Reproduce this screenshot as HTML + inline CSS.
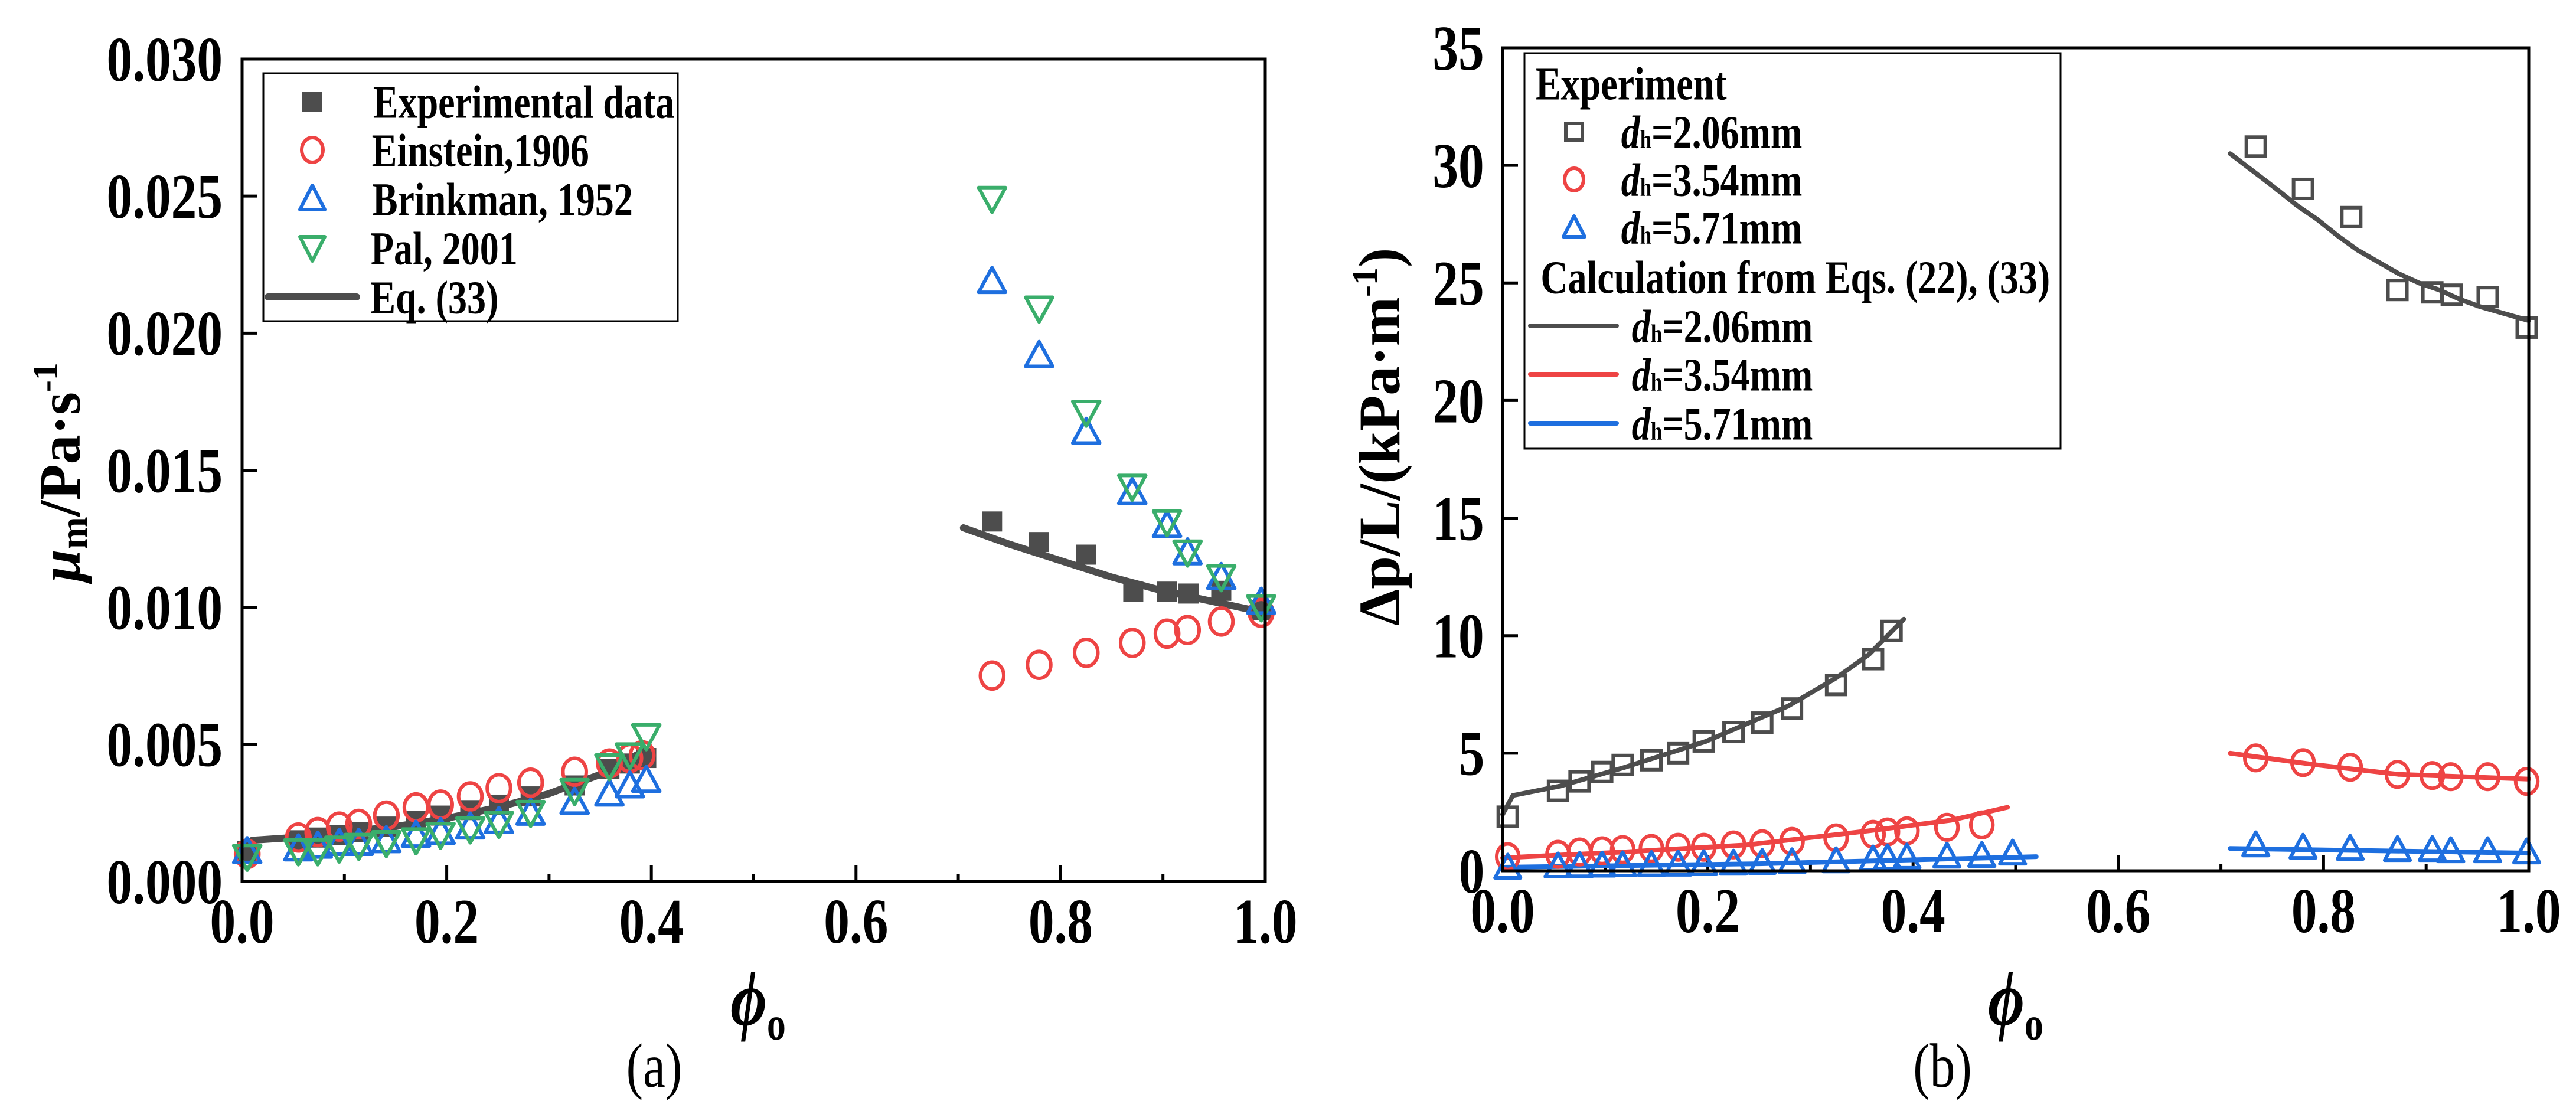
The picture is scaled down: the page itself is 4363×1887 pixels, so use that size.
<!DOCTYPE html>
<html><head><meta charset="utf-8"><style>
html,body{margin:0;padding:0;background:#fff;}
svg{display:block;}
text{font-family:"Liberation Serif",serif;font-weight:bold;fill:#000;}
.st{transform-box:fill-box;transform-origin:center;transform:scale(0.97,1.2);}
</style></head><body>
<svg id="fig" width="4363" height="1887" viewBox="0 0 4363 1887" xmlns="http://www.w3.org/2000/svg"></svg>
<script>
// ---------- Panel (a) data ----------
const aExpX = [0.005,0.055,0.074,0.095,0.114,0.141,0.170,0.194,0.223,0.251,0.282,0.325,0.359,0.379,0.395,0.733,0.779,0.825,0.871,0.904,0.925,0.957,0.996];
const aExpY = [0.0011,0.0015,0.0016,0.0017,0.0018,0.0020,0.0022,0.0024,0.0026,0.0028,0.0031,0.0035,0.0041,0.0043,0.0045,0.01313,0.01238,0.01192,0.01057,0.01057,0.0105,0.0106,0.0099];
const aEinX = [0.005,0.055,0.074,0.095,0.114,0.141,0.170,0.194,0.223,0.251,0.282,0.325,0.359,0.379,0.391,0.733,0.779,0.825,0.870,0.904,0.924,0.957,0.996];
const aEinY = [0.0010,0.0016,0.0018,0.0020,0.0021,0.0024,0.0027,0.0028,0.0031,0.0034,0.0036,0.0040,0.0043,0.0045,0.0046,0.00751,0.0079,0.00834,0.0087,0.00904,0.00917,0.00948,0.0098];
const aBriX = [0.005,0.055,0.074,0.095,0.114,0.141,0.170,0.194,0.223,0.251,0.282,0.325,0.359,0.379,0.395,0.733,0.779,0.825,0.870,0.904,0.924,0.957,0.996];
const aBriY = [0.0011,0.0012,0.0013,0.0014,0.0014,0.0015,0.0017,0.0018,0.0020,0.0022,0.0025,0.0029,0.0032,0.0035,0.0037,0.0219,0.0192,0.0164,0.0142,0.0130,0.0120,0.0111,0.0102];
const aPalX = [0.005,0.055,0.074,0.095,0.114,0.141,0.170,0.194,0.223,0.251,0.282,0.325,0.359,0.379,0.395,0.733,0.779,0.825,0.870,0.904,0.924,0.957,0.996];
const aPalY = [0.0009,0.0011,0.0011,0.0012,0.0013,0.0014,0.0015,0.0017,0.0019,0.0021,0.0025,0.0033,0.0042,0.0046,0.0053,0.0249,0.0209,0.0171,0.0144,0.0131,0.0120,0.0111,0.0100];
const aEqLowX = [0.0,0.01,0.05,0.1,0.15,0.2,0.25,0.3,0.35,0.395];
const aEqLowY = [0.00115,0.0015,0.0016,0.0018,0.0020,0.0023,0.0027,0.0032,0.0039,0.0048];
const aEqHighX = [0.705,0.75,0.8,0.85,0.9,0.95,1.0];
const aEqHighY = [0.0129,0.0123,0.0117,0.0111,0.0106,0.0102,0.0098];
const aYTicks = ["0.000","0.005","0.010","0.015","0.020","0.025","0.030"];
const xTicks = ["0.0","0.2","0.4","0.6","0.8","1.0"];
// ---------- Panel (b) data ----------
const bX1 = [0.005,0.054,0.075,0.097,0.117,0.145,0.171,0.196,0.225,0.253,0.282,0.325,0.361,0.379,0.734,0.780,0.827,0.872,0.906,0.925,0.960,0.998];
const bY1 = [2.3,3.4,3.8,4.2,4.5,4.7,5.0,5.5,5.9,6.3,6.9,7.9,9.0,10.2,30.8,29.0,27.8,24.7,24.6,24.5,24.4,23.1];
const bX2 = [0.005,0.054,0.075,0.097,0.117,0.145,0.171,0.196,0.225,0.253,0.282,0.325,0.361,0.375,0.394,0.433,0.467,0.734,0.780,0.826,0.872,0.906,0.924,0.960,0.998];
const bY2 = [0.6,0.7,0.8,0.85,0.9,0.95,1.0,1.0,1.1,1.15,1.25,1.4,1.55,1.65,1.7,1.85,1.95,4.8,4.6,4.4,4.1,4.05,4.0,4.0,3.8];
const bX3 = [0.005,0.054,0.075,0.097,0.117,0.145,0.171,0.196,0.225,0.253,0.282,0.325,0.361,0.375,0.394,0.433,0.467,0.497,0.734,0.780,0.826,0.872,0.906,0.924,0.960,0.998];
const bY3 = [0.15,0.2,0.22,0.24,0.25,0.26,0.28,0.3,0.32,0.35,0.38,0.42,0.5,0.55,0.58,0.62,0.65,0.75,1.1,1.0,0.95,0.9,0.9,0.85,0.85,0.8];
const bC1LowX = [0,0.01,0.056,0.119,0.198,0.278,0.325,0.357,0.391];
const bC1LowY = [2.4,3.2,3.6,4.4,5.5,7.0,8.2,9.2,10.7];
const bC1HighX = [0.709,0.73,0.754,0.774,0.794,0.814,0.833,0.853,0.873,0.893,0.913,0.933,0.952,0.976,1.0];
const bC1HighY = [30.5,29.8,29.0,28.3,27.7,27.0,26.4,25.9,25.4,25.0,24.7,24.3,24.0,23.7,23.4];
const bC2LowX = [0,0.119,0.238,0.357,0.437,0.492];
const bC2LowY = [0.55,0.8,1.1,1.7,2.15,2.7];
const bC2HighX = [0.709,0.794,0.873,1.0];
const bC2HighY = [5.0,4.5,4.1,3.9];
const bC3LowX = [0,0.25,0.52];
const bC3LowY = [0.15,0.3,0.6];
const bC3HighX = [0.709,1.0];
const bC3HighY = [0.95,0.75];
const bYTicks = ["0","5","10","15","20","25","30","35"];

const NS="http://www.w3.org/2000/svg";
const svg=document.getElementById('fig');
function mk(tag,attrs,parent){const e=document.createElementNS(NS,tag);for(const k in attrs)e.setAttribute(k,attrs[k]);(parent||svg).appendChild(e);return e;}
const GRAY="#4d4d4d",RED="#ee4444",BLUE="#1e6fdf",GREEN="#3aae6b";

function marker(g,type,cx,cy,color,s){
  let e;
  if(type==='fsq'){e=mk('rect',{x:cx-s/2,y:cy-s/2,width:s,height:s,fill:color},g);}
  else if(type==='sq'){e=mk('rect',{x:cx-s/2,y:cy-s/2,width:s,height:s,fill:'none',stroke:color,'stroke-width':6},g);}
  else if(type==='ci'){e=mk('ellipse',{cx:cx,cy:cy,rx:s*0.52,ry:s*0.6,fill:'none',stroke:color,'stroke-width':6},g);}
  else if(type==='tu'){e=mk('polygon',{points:`${cx},${cy-s*0.6} ${cx-s*0.6},${cy+s*0.5} ${cx+s*0.6},${cy+s*0.5}`,fill:'none',stroke:color,'stroke-width':6,'stroke-linejoin':'round'},g);}
  else {e=mk('polygon',{points:`${cx},${cy+s*0.6} ${cx-s*0.6},${cy-s*0.5} ${cx+s*0.6},${cy-s*0.5}`,fill:'none',stroke:color,'stroke-width':6,'stroke-linejoin':'round'},g);}
  return e;
}

function panel(o){
  const sx=v=>o.x0+(v-o.xmin)/(o.xmax-o.xmin)*(o.x1-o.x0);
  const sy=v=>o.y0-(v-o.ymin)/(o.ymax-o.ymin)*(o.y0-o.y1);
  const g=mk('g',{});
  
  
  for(let i=0;i<=10;i++){const v=i/10;const X=sx(v);const len=(i%2==0)?27:12;
    const t=mk('line',{x1:X,y1:o.y0,x2:X,y2:o.y0-len,stroke:'#000','stroke-width':5},g);
    }
  xTicks.forEach((lab,i)=>{const t=mk('text',{x:sx(i*0.2),y:o.y0+98,'text-anchor':'middle','font-size':90,'class':'st'},g);t.textContent=lab;
    });
  o.yticks.forEach((lab,i)=>{const v=o.ymin+i*o.ystep;const Y=sy(v);
    const l=mk('line',{x1:o.x0,y1:Y,x2:o.x0+26,y2:Y,stroke:'#000','stroke-width':5},g);
    
    const t=mk('text',{x:o.x0-30,y:Y+31,'text-anchor':'end','font-size':90,'class':'st'},g);t.textContent=lab;
    });
  o.lines.forEach(L=>{let d='';L.x.forEach((v,i)=>{d+=(i?'L':'M')+sx(v).toFixed(1)+','+sy(L.y[i]).toFixed(1);});
    const p=mk('path',{d:d,fill:'none',stroke:L.c,'stroke-width':L.w,'stroke-linecap':'round','stroke-linejoin':'round'},g);
    });
  o.pts.forEach(P=>{const sg=mk('g',{},g);
    P.x.forEach((v,i)=>{const m=marker(sg,P.t,sx(v),sy(P.y[i]),P.c,P.s);
      });});
  const f=mk('rect',{x:o.x0,y:o.y1,width:o.x1-o.x0,height:o.y0-o.y1,fill:'none',stroke:'#000','stroke-width':5},g);
  
  return g;
}

panel({name:'panel-a',x0:410,x1:2143,y0:1493,y1:100,xmin:0,xmax:1,ymin:0,ymax:0.03,ystep:0.005,yticks:aYTicks,
  lines:[{n:'eq33-line-low',x:aEqLowX,y:aEqLowY,c:GRAY,w:12},{n:'eq33-line-high',x:aEqHighX,y:aEqHighY,c:GRAY,w:12}],
  pts:[{n:'experimental-series',t:'fsq',x:aExpX,y:aExpY,c:GRAY,s:34},
       {n:'einstein-series',t:'ci',x:aEinX,y:aEinY,c:RED,s:38},
       {n:'brinkman-series',t:'tu',x:aBriX,y:aBriY,c:BLUE,s:38},
       {n:'pal-series',t:'td',x:aPalX,y:aPalY,c:GREEN,s:38}]});
panel({name:'panel-b',x0:2545,x1:4283,y0:1475,y1:81,xmin:0,xmax:1,ymin:0,ymax:35,ystep:5,yticks:bYTicks,
  lines:[{n:'calc-206-low',x:bC1LowX,y:bC1LowY,c:GRAY,w:8},{n:'calc-206-high',x:bC1HighX,y:bC1HighY,c:GRAY,w:8},
         {n:'calc-354-low',x:bC2LowX,y:bC2LowY,c:RED,w:8},{n:'calc-354-high',x:bC2HighX,y:bC2HighY,c:RED,w:8},
         {n:'calc-571-low',x:bC3LowX,y:bC3LowY,c:BLUE,w:8},{n:'calc-571-high',x:bC3HighX,y:bC3HighY,c:BLUE,w:8}],
  pts:[{n:'exp-206-series',t:'sq',x:bX1,y:bY1,c:GRAY,s:32},
       {n:'exp-354-series',t:'ci',x:bX2,y:bY2,c:RED,s:36},
       {n:'exp-571-series',t:'tu',x:bX3,y:bY3,c:BLUE,s:36}]});
</script>
<svg style="position:absolute;left:0;top:0" width="4363" height="1887" xmlns="http://www.w3.org/2000/svg">
<g>
 <rect x="446" y="124" width="702" height="420" fill="#fff" stroke="#000" stroke-width="3"/>
 <rect x="512" y="155" width="34" height="34" fill="#4d4d4d"/>
 <text class="st" x="624" y="195" font-size="66">Experimental data</text>
 <ellipse cx="529" cy="254" rx="18" ry="21" fill="none" stroke="#ee4444" stroke-width="6"/>
 <text class="st" x="624" y="277" font-size="66">Einstein,1906</text>
 <polygon points="529,314 508,355 550,355" fill="none" stroke="#1e6fdf" stroke-width="6" stroke-linejoin="round"/>
 <text class="st" x="624" y="360" font-size="66">Brinkman, 1952</text>
 <polygon points="529,442 508,401 550,401" fill="none" stroke="#3aae6b" stroke-width="6" stroke-linejoin="round"/>
 <text class="st" x="624" y="443" font-size="66">Pal, 2001</text>
 <line x1="454" y1="503" x2="604" y2="503" stroke="#4d4d4d" stroke-width="12" stroke-linecap="round"/>
 <text class="st" x="624" y="526" font-size="66">Eq.  (33)</text>
</g>
<g>
 <rect x="2582" y="90" width="908" height="670" fill="#fff" stroke="#000" stroke-width="3"/>
 <text class="st" x="2596" y="164" font-size="66">Experiment</text>
 <rect x="2652" y="209" width="28" height="28" fill="none" stroke="#4d4d4d" stroke-width="6"/>
 <text class="st" x="2741" y="246" font-size="66"><tspan font-style="italic">d</tspan><tspan font-size="36">h</tspan>=2.06mm</text>
 <ellipse cx="2666" cy="304" rx="16" ry="19" fill="none" stroke="#ee4444" stroke-width="6"/>
 <text class="st" x="2741" y="327" font-size="66"><tspan font-style="italic">d</tspan><tspan font-size="36">h</tspan>=3.54mm</text>
 <polygon points="2666,366 2648,401 2684,401" fill="none" stroke="#1e6fdf" stroke-width="6" stroke-linejoin="round"/>
 <text class="st" x="2741" y="408" font-size="66"><tspan font-style="italic">d</tspan><tspan font-size="36">h</tspan>=5.71mm</text>
 <text class="st" x="2596" y="492" font-size="66">Calculation from Eqs. (22), (33)</text>
 <line x1="2592" y1="552" x2="2738" y2="552" stroke="#4d4d4d" stroke-width="8" stroke-linecap="round"/>
 <text class="st" x="2759" y="575" font-size="66"><tspan font-style="italic">d</tspan><tspan font-size="36">h</tspan>=2.06mm</text>
 <line x1="2592" y1="634" x2="2738" y2="634" stroke="#ee4444" stroke-width="8" stroke-linecap="round"/>
 <text class="st" x="2759" y="657" font-size="66"><tspan font-style="italic">d</tspan><tspan font-size="36">h</tspan>=3.54mm</text>
 <line x1="2592" y1="717" x2="2738" y2="717" stroke="#1e6fdf" stroke-width="8" stroke-linecap="round"/>
 <text class="st" x="2759" y="740" font-size="66"><tspan font-style="italic">d</tspan><tspan font-size="36">h</tspan>=5.71mm</text>
</g>
<text transform="translate(135,800) rotate(-90)" text-anchor="middle" font-size="100"><tspan font-style="italic">μ</tspan><tspan font-size="66" dy="12">m</tspan><tspan dy="-12">/Pa·s</tspan><tspan font-size="60" dy="-38">-1</tspan></text>
<text class="st" x="1284" y="1730" text-anchor="middle" font-size="110" font-style="italic">ϕ<tspan font-size="66" font-style="normal" dy="20">o</tspan></text>
<text class="st" x="1108" y="1835" text-anchor="middle" font-size="88" style="font-weight:normal">(a)</text>
<text transform="translate(2370,740) rotate(-90)" text-anchor="middle" font-size="100">Δp/L/(kPa·m<tspan font-size="60" dy="-38">-1</tspan><tspan dy="38">)</tspan></text>
<text class="st" x="3414" y="1730" text-anchor="middle" font-size="110" font-style="italic">ϕ<tspan font-size="66" font-style="normal" dy="20">o</tspan></text>
<text class="st" x="3290" y="1835" text-anchor="middle" font-size="88" style="font-weight:normal">(b)</text>
</svg>
</body></html>
